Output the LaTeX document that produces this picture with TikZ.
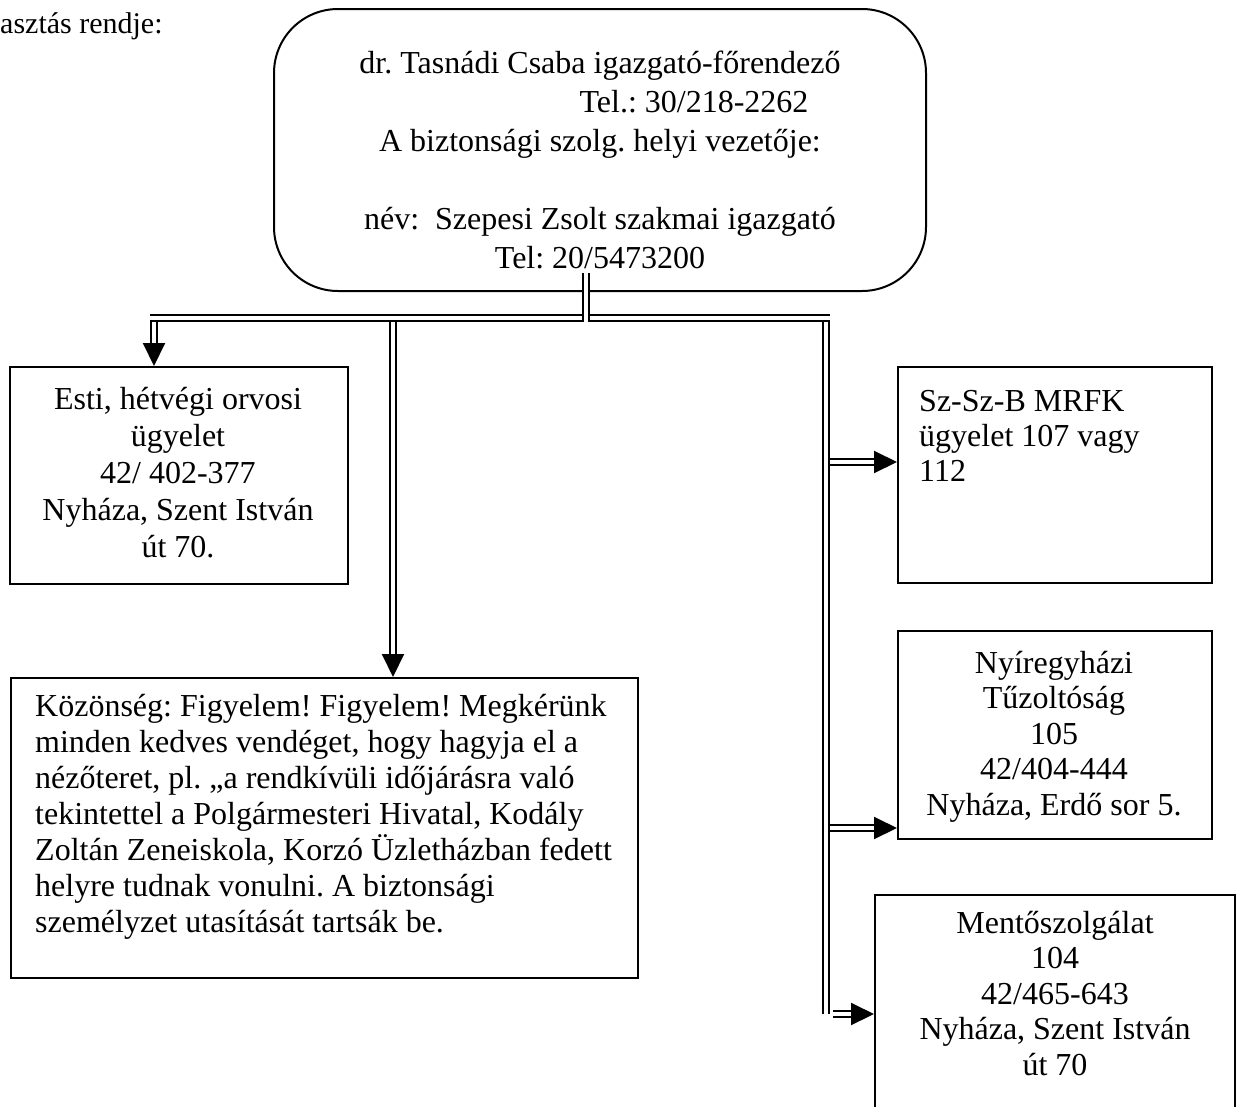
\documentclass[tikz,border=0pt]{standalone}
\usepackage{fontspec}
\setmainfont{Liberation Serif}
\usetikzlibrary{arrows.meta}
\frenchspacing
\begin{document}
\begin{tikzpicture}[x=1pt,y=-1pt,
  box/.style={draw, line width=2pt, anchor=north west, inner sep=0pt},
  txt/.style={inner sep=0pt, font=\fontsize{32}{36.8}\selectfont},
  dbl/.style={draw, line width=2pt, double, double distance=4pt},
  dblarrow/.style={dbl, -{Triangle[length=23pt,width=22pt]}}
]
\useasboundingbox (0,0) rectangle (1237,1106);
\clip (0,0) rectangle (1237,1106);

% title fragment
\node[inner sep=0pt, font=\fontsize{30}{36}\selectfont, anchor=base west] (title) at (0,33) {asztás rendje:};

% top rounded box
\node[box, rounded corners=64pt, minimum width=652pt, minimum height=282pt] (top) at (273,8) {};
\node[inner sep=0pt, anchor=north, align=center, font=\fontsize{32}{39}\selectfont] (toptext) at (600,46)
  {\strut dr. Tasnádi Csaba igazgató-főrendező\\
   \hspace*{188pt}Tel.: 30/218-2262\\
   A biztonsági szolg. helyi vezetője:\\
   \mbox{}\\
   név:~ Szepesi Zsolt szakmai igazgató\\
   Tel: 20/5473200};

% boxes
\node[box, minimum width=338pt, minimum height=217pt] (esti) at (9,366) {};
\node[txt, anchor=north, align=center] (estitext) at (178,384)
  {\strut Esti, hétvégi orvosi\\ ügyelet\\ 42/ 402-377\\ Nyháza, Szent István\\ út 70.};

\node[box, minimum width=627pt, minimum height=300pt] (kozon) at (10,677) {};
\node[txt, anchor=north west, align=left, font=\fontsize{32}{36}\selectfont] (kozontext) at (35,691)
  {\strut Közönség: Figyelem! Figyelem! Megkérünk\\
   minden kedves vendéget, hogy hagyja el a\\
   nézőteret, pl. „a rendkívüli időjárásra való\\
   tekintettel a Polgármesteri Hivatal, Kodály\\
   Zoltán Zeneiskola, Korzó Üzletházban fedett\\
   helyre tudnak vonulni. A biztonsági\\
   személyzet utasítását tartsák be.};

\node[box, minimum width=314pt, minimum height=216pt] (sz) at (897,366) {};
\node[txt, anchor=north west, align=left, font=\fontsize{32}{35}\selectfont] (sztext) at (919,387)
  {\strut Sz-Sz-B MRFK\\ ügyelet 107 vagy\\ 112};

\node[box, minimum width=314pt, minimum height=208pt] (nyir) at (897,630) {};
\node[txt, anchor=north, align=center, font=\fontsize{32}{35.5}\selectfont] (nyirtext) at (1054,648)
  {\strut Nyíregyházi\\ Tűzoltóság\\ 105\\ 42/404-444\\ Nyháza, Erdő sor 5.};

\node[box, minimum width=360pt, minimum height=240pt] (mento) at (874,894) {};
\node[txt, anchor=north, align=center, font=\fontsize{32}{35.5}\selectfont] (mentotext) at (1055,908)
  {\strut Mentőszolgálat\\ 104\\ 42/465-643\\ Nyháza, Szent István\\ út 70};

% connectors
\coordinate (t0) at (586,273);
\coordinate (t1) at (586,322);
\coordinate (hl) at (150,318);
\coordinate (hr) at (830,318);
\coordinate (jl) at (154,322);
\coordinate (jm) at (393,322);
\coordinate (jr) at (826,322);
\coordinate (rb) at (826,1014);
\coordinate (b1) at (830,462);
\coordinate (b2) at (830,828);
\coordinate (b3) at (833,1014);

\draw[dbl] (hl) -- (hr);
\draw[dbl] (t0) -- (t1);
\draw[dblarrow] (jl) -- (jl |- esti.north);
\draw[dblarrow] (jm) -- (jm |- kozon.north);
\draw[dbl] (jr) -- (rb);
\draw[dblarrow] (b1) -- (b1 -| sz.west);
\draw[dblarrow] (b2) -- (b2 -| nyir.west);
\draw[dblarrow] (b3) -- (b3 -| mento.west);
\end{tikzpicture}
\end{document}
